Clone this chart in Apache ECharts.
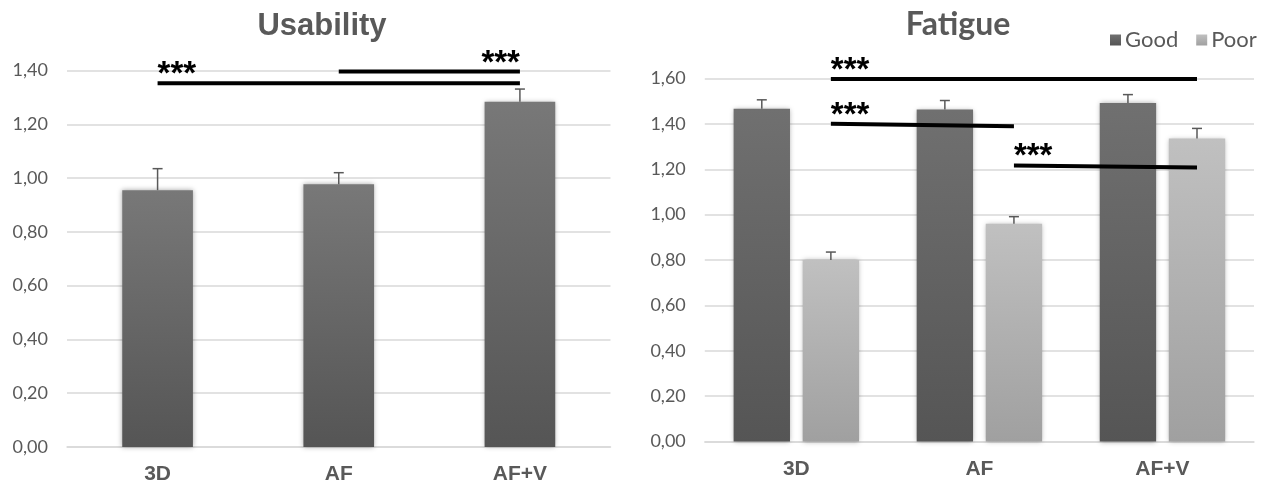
<!DOCTYPE html>
<html>
<head>
<meta charset="utf-8">
<script src="https://cdn.jsdelivr.net/npm/echarts@6/dist/echarts.min.js"></script>
<style>
  html, body { margin: 0; padding: 0; background: #fff; }
  #chart { width: 1265px; height: 485px; }
</style>
</head>
<body>
<div id="chart"></div>
<script>
// ---- data ----
const categories = ['3D', 'AF', 'AF+V'];

const usabilityMean = [0.955, 0.977, 1.284];
const usabilityErr  = [0.080, 0.043, 0.047];

const fatigueGood    = [1.467, 1.463, 1.492];
const fatigueGoodErr = [0.039, 0.040, 0.037];
const fatiguePoor    = [0.800, 0.960, 1.335];
const fatiguePoorErr = [0.035, 0.031, 0.045];

// significance brackets: from category, to category, level at start, level at end, label anchor (0 = start, 1 = end)
const usabilitySigFrom  = [1, 0];
const usabilitySigTo    = [2, 2];
const usabilitySigStart = [1.396, 1.353];
const usabilitySigEnd   = [1.396, 1.353];
const usabilitySigAt    = [1, 0];

const fatigueSigFrom  = [0, 0, 1];
const fatigueSigTo    = [2, 1, 2];
const fatigueSigStart = [1.598, 1.401, 1.217];
const fatigueSigEnd   = [1.598, 1.389, 1.208];
const fatigueSigAt    = [0, 0, 0];

const sigText = '***';

// ---- helpers ----
const fmt = v => v.toFixed(2).replace('.', ',');
const grey = '#595959';
const gridGrey = '#d9d9d9';

function grad(top, bottom) {
  return new echarts.graphic.LinearGradient(0, 0, 0, 1, [
    { offset: 0, color: top }, { offset: 1, color: bottom }
  ]);
}

// offset fraction (of category band) of a bar's center from the category center
const FAT_BAR_W = 0.308, FAT_GAP = 0.225;
const fatOff = (FAT_BAR_W * (1 + FAT_GAP)) / 2;

function errRender(offFrac) {
  return function (params, api) {
    const band = api.size([1, 0])[0];
    const off = band * offFrac;
    const cat = api.value(0);
    const base = api.coord([cat, api.value(1)]);
    const top = api.coord([cat, api.value(1) + api.value(2)]);
    const x = base[0] + off;
    return {
      type: 'group',
      children: [
        { type: 'line', shape: { x1: x, y1: base[1], x2: x, y2: top[1] },
          style: { stroke: grey, lineWidth: 1.5 } },
        { type: 'line', shape: { x1: x - 5, y1: top[1], x2: x + 5, y2: top[1] },
          style: { stroke: grey, lineWidth: 1.5 } }
      ]
    };
  };
}

function sigRender(offFrac) {
  return function (params, api) {
    const band = api.size([1, 0])[0];
    const off = band * offFrac;
    const p1 = api.coord([api.value(0), api.value(2)]);
    const p2 = api.coord([api.value(1), api.value(3)]);
    const at = api.value(4);
    const x1 = p1[0] + off, x2 = p2[0] + off;
    const tx = at === 1 ? x2 : x1;
    const ty = at === 1 ? p2[1] : p1[1];
    return {
      type: 'group',
      children: [
        { type: 'line', shape: { x1: x1, y1: p1[1], x2: x2, y2: p2[1] },
          style: { stroke: '#000', lineWidth: 4 } },
        { type: 'text', style: {
            text: sigText, x: tx, y: ty - 8,
            fill: '#000', font: 'bold 33px "Liberation Sans", Arial, sans-serif',
            align: at === 1 ? 'right' : 'left', verticalAlign: 'middle' } }
      ]
    };
  };
}

const usabilityErrData = categories.map((c, i) => [i, usabilityMean[i], usabilityErr[i]]);
const goodErrData = categories.map((c, i) => [i, fatigueGood[i], fatigueGoodErr[i]]);
const poorErrData = categories.map((c, i) => [i, fatiguePoor[i], fatiguePoorErr[i]]);
const usabilitySigData = usabilitySigFrom.map((f, i) =>
  [f, usabilitySigTo[i], usabilitySigStart[i], usabilitySigEnd[i], usabilitySigAt[i]]);
const fatigueSigData = fatigueSigFrom.map((f, i) =>
  [f, fatigueSigTo[i], fatigueSigStart[i], fatigueSigEnd[i], fatigueSigAt[i]]);

const xAxisCommon = {
  type: 'category',
  data: categories,
  axisLine: { lineStyle: { color: gridGrey, width: 1.5 } },
  axisTick: { show: false },
  axisLabel: { color: grey, fontSize: 21, fontWeight: 'bold',
    fontFamily: '"Liberation Sans", Arial, sans-serif', margin: 17 }
};
const yAxisCommon = {
  type: 'value',
  min: 0,
  interval: 0.2,
  axisLine: { show: false },
  axisTick: { show: false },
  splitLine: { lineStyle: { color: gridGrey, width: 1.5 } },
  axisLabel: { color: grey, fontSize: 18, fontFamily: 'Lato, "Open Sans", sans-serif',
    margin: 19, formatter: fmt }
};

const chart = echarts.init(document.getElementById('chart'), null, { renderer: 'canvas' });
chart.setOption({
  animation: false,
  backgroundColor: '#fff',
  title: [
    { text: 'Usability', left: 317, top: 6, textAlign: 'center',
      textStyle: { color: grey, fontSize: 31, fontWeight: 'bold',
        fontFamily: '"Liberation Sans", Arial, sans-serif' } },
    { text: 'Fatigue', left: 953, top: 4, textAlign: 'center',
      textStyle: { color: grey, fontSize: 32, fontWeight: 'bold',
        fontFamily: 'Lato, "Open Sans", sans-serif' } }
  ],
  legend: {
    data: ['Good', 'Poor'],
    left: 1105, top: 24,
    icon: 'rect', itemWidth: 11, itemHeight: 11, itemGap: 18,
    textStyle: { color: grey, fontSize: 22, fontFamily: 'Lato, "Open Sans", sans-serif', padding: [0, 0, 0, -1] }
  },
  grid: [
    { left: 67, right: 654.5, top: 70.5, bottom: 37.5 },
    { left: 704.8, right: 11, top: 78.5, bottom: 43.5 }
  ],
  xAxis: [
    Object.assign({ gridIndex: 0 }, xAxisCommon),
    Object.assign({ gridIndex: 1 }, xAxisCommon)
  ],
  yAxis: [
    Object.assign({ gridIndex: 0, max: 1.4 }, yAxisCommon),
    Object.assign({ gridIndex: 1, max: 1.6 }, yAxisCommon)
  ],
  series: [
    { name: 'Usability', type: 'bar', xAxisIndex: 0, yAxisIndex: 0,
      data: usabilityMean, barWidth: '39%',
      itemStyle: { color: grad('#787878', '#555555'),
        shadowBlur: 5, shadowColor: 'rgba(0,0,0,0.35)' } },
    { type: 'custom', xAxisIndex: 0, yAxisIndex: 0, data: usabilityErrData,
      renderItem: errRender(0), encode: { x: 0, y: 1 }, z: 5, clip: false, silent: true },
    { type: 'custom', xAxisIndex: 0, yAxisIndex: 0, data: usabilitySigData,
      renderItem: sigRender(0), encode: { x: 0, y: 2 }, z: 10, clip: false, silent: true },

    { name: 'Good', type: 'bar', xAxisIndex: 1, yAxisIndex: 1,
      data: fatigueGood, barWidth: (FAT_BAR_W * 100) + '%', barGap: (FAT_GAP * 100) + '%',
      itemStyle: { color: grad('#707070', '#555555'),
        shadowBlur: 5, shadowColor: 'rgba(0,0,0,0.35)' } },
    { name: 'Poor', type: 'bar', xAxisIndex: 1, yAxisIndex: 1,
      data: fatiguePoor, barWidth: (FAT_BAR_W * 100) + '%', barGap: (FAT_GAP * 100) + '%',
      itemStyle: { color: grad('#c0c0c0', '#a0a0a0'),
        shadowBlur: 5, shadowColor: 'rgba(0,0,0,0.3)' } },
    { type: 'custom', xAxisIndex: 1, yAxisIndex: 1, data: goodErrData,
      renderItem: errRender(-fatOff), encode: { x: 0, y: 1 }, z: 5, clip: false, silent: true },
    { type: 'custom', xAxisIndex: 1, yAxisIndex: 1, data: poorErrData,
      renderItem: errRender(fatOff), encode: { x: 0, y: 1 }, z: 5, clip: false, silent: true },
    { type: 'custom', xAxisIndex: 1, yAxisIndex: 1, data: fatigueSigData,
      renderItem: sigRender(fatOff), encode: { x: 0, y: 2 }, z: 10, clip: false, silent: true }
  ]
});
</script>
</body>
</html>
